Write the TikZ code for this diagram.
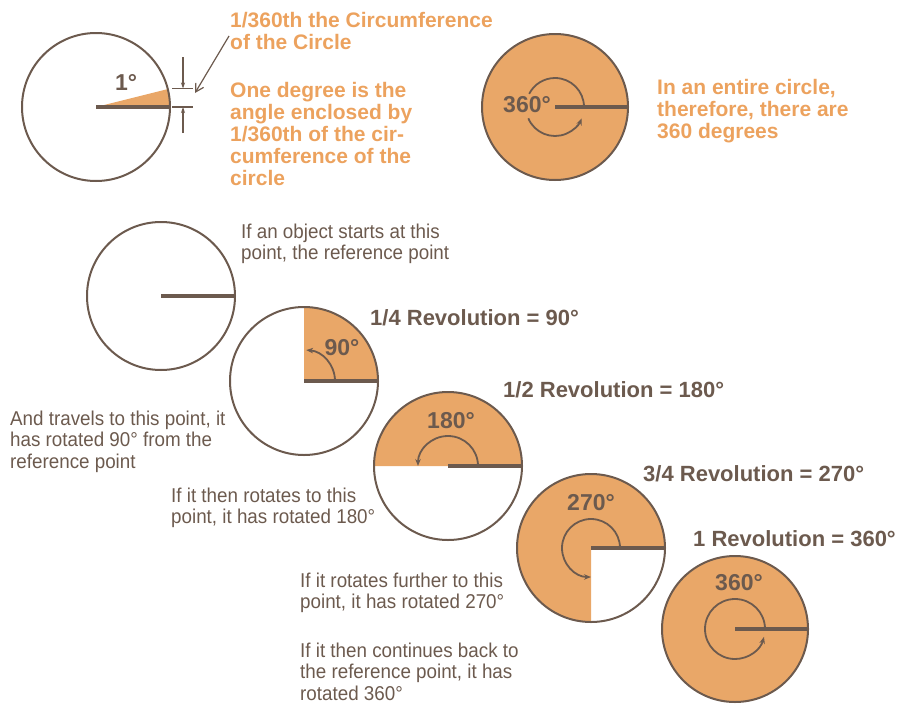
\documentclass[tikz,border=0pt]{standalone}
\usepackage{fontspec}
\setmainfont{Liberation Sans}
\newfontfamily\notefont{Liberation Sans}[FakeStretch=0.94]
\usetikzlibrary{arrows.meta}
\definecolor{org}{RGB}{233,167,104}
\definecolor{orgtext}{RGB}{236,162,94}
\definecolor{brn}{RGB}{108,90,78}
\begin{document}
\begin{tikzpicture}[x=1pt,y=-1pt,
  ring/.style={draw=brn,line width=2pt},
  refline/.style={draw=brn,line width=4.5pt},
  turnarc/.style={draw=brn,line width=1.8pt},
  turn/.style={turnarc,-{Stealth[length=7pt,width=5.5pt]}},
  dimline/.style={draw=brn,line width=1.2pt},
  note/.style={font=\notefont\fontsize{20}{21.5}\selectfont,text=brn,align=left,anchor=base west,inner sep=0pt},
  onote/.style={font=\bfseries\fontsize{21}{22}\selectfont,text=orgtext,align=left,anchor=base west,inner sep=0pt},
  rev/.style={font=\bfseries\fontsize{22}{24}\selectfont,text=brn,anchor=base west,inner sep=0pt},
  deg/.style={font=\bfseries\fontsize{23}{24}\selectfont,text=brn,anchor=base,inner sep=0pt},
]
\path[use as bounding box] (0,0) rectangle (904,704);

% ---------- top left: one degree ----------
\coordinate (A) at (96,107);
\fill[org] (A) -- ++(0:74) arc[start angle=0,end angle=-14,radius=74] -- cycle;
\draw[ring] (A) circle[radius=74];
\draw[refline] (A) -- ++(74,0);
\node[deg] (dA) at (126,90) {1°};
\coordinate (dimT0) at (183,57);
\coordinate (dimT1) at (183,88.5);
\coordinate (dimB0) at (183,133);
\coordinate (dimB1) at (183,107);
\draw[dimline] (172,88.5) -- (193,88.5);
\draw[dimline] (172,107) -- (193,107);
\draw[dimline,-{Stealth[length=6pt,width=4pt]}] (dimT0) -- (dimT1);
\draw[dimline,-{Stealth[length=6pt,width=4pt]}] (dimB0) -- (dimB1);
\coordinate (lead0) at (229,36);
\coordinate (lead1) at (195,93);
\draw[dimline,-{Straight Barb[length=8pt,width=9pt]}] (lead0) -- (lead1);

% multi-line nodes: base anchor sits on the last line
\node[onote] (t1) at (230,49) {1/360th the Circumference\\of the Circle};
\node[onote] (t2) at (230,185) {One degree is the\\angle enclosed by\\1/360th of the cir-\\cumference of the\\circle};

% ---------- top right: 360 ----------
\coordinate (B) at (555,107);
\fill[org] (B) circle[radius=73];
\draw[ring] (B) circle[radius=73];
\draw[turnarc] (B) ++(0:29) arc[start angle=0,end angle=-153,radius=29];
\draw[turn] (B) ++(-203:29) arc[start angle=-203,end angle=-337,radius=29];
\draw[refline] (B) -- ++(73,0);
\node[deg] (dB) at (527,112) {360°};
\node[onote] (t3) at (657,138) {In an entire circle,\\therefore, there are\\360 degrees};

% ---------- circle 1: reference ----------
\coordinate (C1) at (161,296);
\draw[ring] (C1) circle[radius=74];
\draw[refline] (C1) -- ++(74,0);
\node[note] (n1) at (241,259.5) {If an object starts at this\\point, the reference point};

% ---------- circle 2: 90 ----------
\coordinate (C2) at (304,381);
\fill[org] (C2) -- ++(0:74) arc[start angle=0,end angle=-90,radius=74] -- cycle;
\draw[ring] (C2) circle[radius=74];
\draw[turn] (C2) ++(0:31) arc[start angle=0,end angle=-86,radius=31];
\draw[refline] (C2) -- ++(74,0);
\node[deg] (d2) at (342,355) {90°};
\node[rev] (r1) at (370,325) {1/4 Revolution = 90°};
\node[note] (n2) at (10,468) {And travels to this point, it\\has rotated 90° from the\\reference point};

% ---------- circle 3: 180 ----------
\coordinate (C3) at (448,466);
\fill[org] (C3) -- ++(0:74) arc[start angle=0,end angle=-180,radius=74] -- cycle;
\draw[ring] (C3) circle[radius=74];
\draw[turn] (C3) ++(0:30) arc[start angle=0,end angle=-180,radius=30];
\draw[refline] (C3) -- ++(74,0);
\node[deg] (d3) at (451,428) {180°};
\node[rev] (r2) at (503,397) {1/2 Revolution = 180°};
\node[note] (n3) at (171,523.5) {If it then rotates to this\\point, it has rotated 180°};

% ---------- circle 4: 270 ----------
\coordinate (C4) at (591,548);
\fill[org] (C4) -- ++(0:74) arc[start angle=0,end angle=-270,radius=74] -- cycle;
\draw[ring] (C4) circle[radius=74];
\draw[turn] (C4) ++(0:29) arc[start angle=0,end angle=-270,radius=29];
\draw[refline] (C4) -- ++(74,0);
\node[deg] (d4) at (591,510) {270°};
\node[rev] (r3) at (643,481) {3/4 Revolution = 270°};
\node[note] (n4) at (300,608.5) {If it rotates further to this\\point, it has rotated 270°};

% ---------- circle 5: 360 ----------
\coordinate (C5) at (735,629);
\fill[org] (C5) circle[radius=73];
\draw[ring] (C5) circle[radius=73];
\draw[turn] (C5) ++(0:30) arc[start angle=0,end angle=-345,radius=30];
\draw[refline] (C5) -- ++(73,0);
\node[deg] (d5) at (739,590) {360°};
\node[rev] (r4) at (693,546) {1 Revolution = 360°};
\node[note] (n5) at (300,700) {If it then continues back to\\the reference point, it has\\rotated 360°};
\end{tikzpicture}
\end{document}
